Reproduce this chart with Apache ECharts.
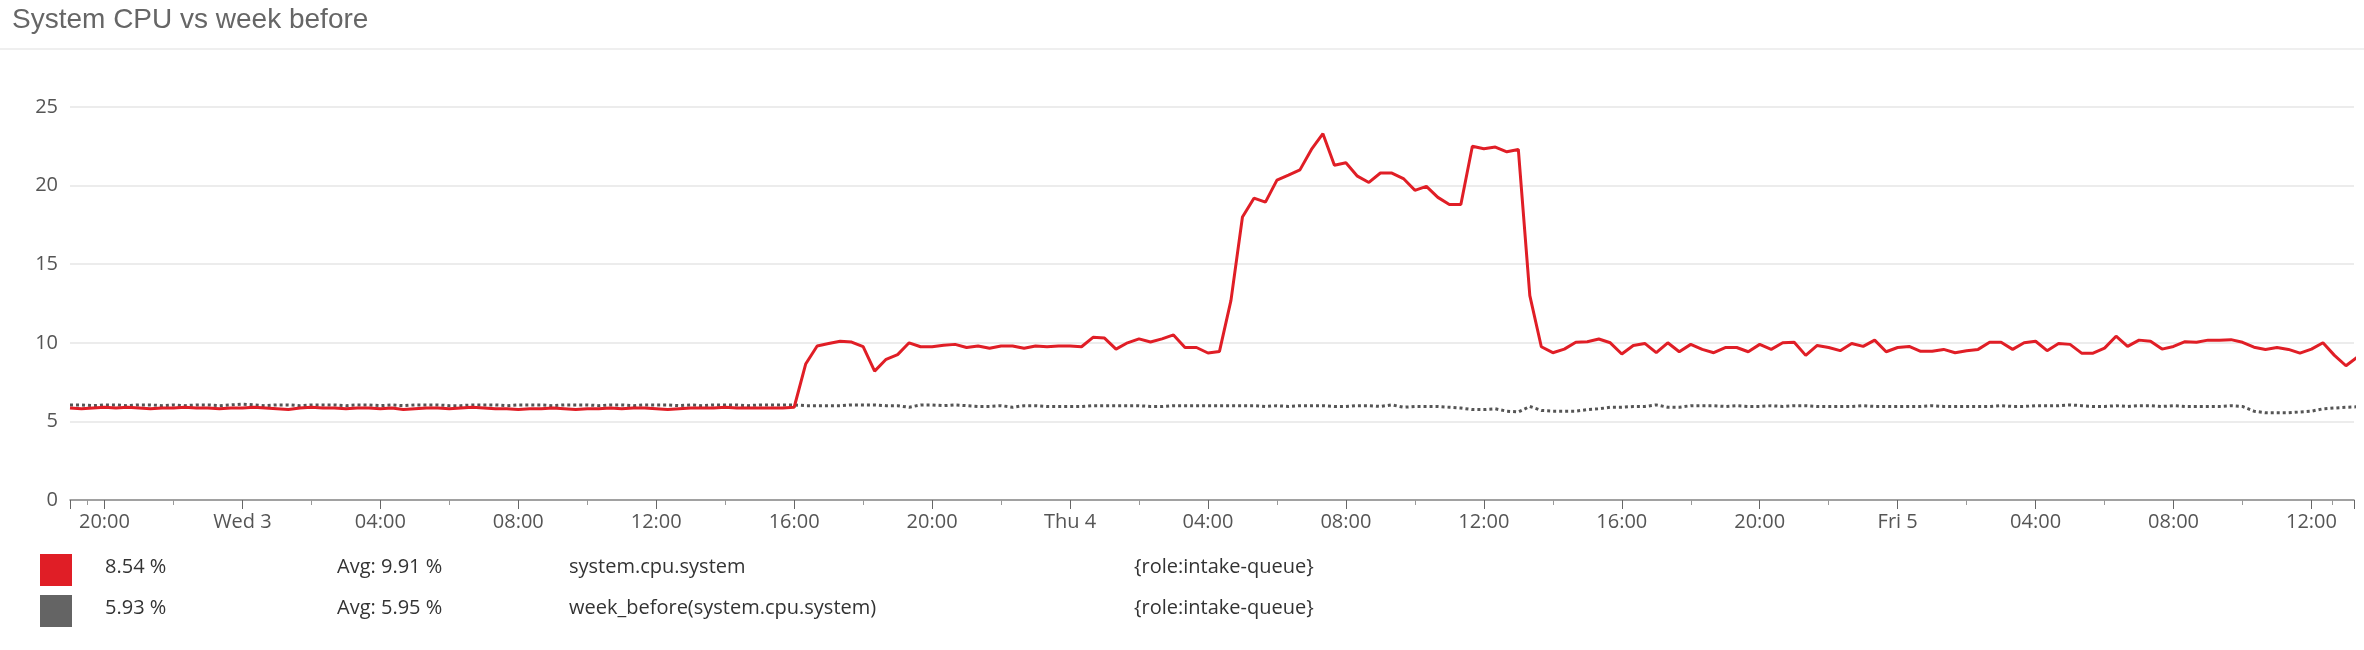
<!DOCTYPE html>
<html><head><meta charset="utf-8">
<script src="https://cdn.jsdelivr.net/npm/echarts@6/dist/echarts.min.js"></script>
<style>html,body{margin:0;padding:0;background:#fff}#c{width:2364px;height:650px}</style>
</head><body><div id="c"></div>
<script>
// Sample grid: 20-minute samples starting Tue 2 May 2017 19:00
const startTime = [2017, 4, 2, 19, 0];
const stepMinutes = 20;
const axisEnd = [2017, 4, 5, 13, 14];

// system.cpu.system
const cpuTueWed = [
  5.85,5.8,5.85,5.9,5.85,5.9,5.85,5.8,5.85,
  5.85,5.9,5.85,5.85,5.8,5.85,5.85,5.9,5.85,
  5.8,5.75,5.85,5.9,5.85,5.85,5.8,5.85,5.85,
  5.8,5.85,5.75,5.8,5.85,5.85,5.8,5.85,5.9,
  5.85,5.8,5.8,5.75,5.8,5.8,5.85,5.8,5.75,
  5.8,5.8,5.85,5.8,5.85,5.85,5.8,5.75,5.8,
  5.85,5.85,5.85,5.9,5.85,5.85,5.85,5.85,5.85
];
const cpuWedEve = [5.9,8.65,9.8,9.95,10.1,10.05,9.75,8.2,8.95,9.25,10.0,9.75,9.75,9.85,9.9,9.7,9.8,9.65,9.8,9.8,9.65,9.8,9.75,9.8];
const cpuThuAm = [9.8,9.75,10.35,10.3,9.6,10.0,10.25,10.05,10.25,10.5,9.7,9.7,9.35,9.45,12.7,18.0,19.2,18.95,20.35,20.67,21.0,22.3,23.3,21.3,21.45,20.6,20.2,20.8,20.8,20.45,19.7,19.95,19.25,18.8,18.8,22.5,22.35,22.45,22.15,22.3,13.0,9.75];
const cpuThuPm = [9.37,9.6,10.03,10.07,10.24,10.0,9.29,9.83,9.96,9.37,10.0,9.43,9.9,9.58,9.37,9.7,9.7,9.43,9.9,9.58,10.0,10.03,9.2,9.83,9.7,9.5,9.96,9.77,10.17,9.43];
const cpuFri = [9.7,9.77,9.46,9.46,9.58,9.37,9.5,9.58,10.03,10.03,9.58,10.0,10.1,9.5,9.96,9.9,9.34,9.34,9.66,10.42,9.77,10.17,10.1,9.6,9.77,10.07,10.03,10.17,10.17,10.2,10.03,9.72,9.58,9.7,9.58,9.34,9.6,10.0,9.2,8.54,9.1];

// week_before(system.cpu.system)
const weekTueWed = [
  6.05,6.05,6.0,6.05,6.05,6.0,6.05,6.05,6.0,
  6.05,6.0,6.05,6.05,6.0,6.05,6.1,6.05,6.0,
  6.05,6.05,6.0,6.05,6.05,6.05,6.0,6.05,6.05,
  6.0,6.05,6.0,6.05,6.05,6.05,6.0,6.0,6.05,
  6.05,6.05,6.0,6.05,6.05,6.05,6.0,6.05,6.05,
  6.05,6.0,6.05,6.05,6.0,6.05,6.05,6.05,6.0,
  6.05,6.0,6.05,6.05,6.05,6.0,6.05,6.05,6.05
];
const weekWedEve = [6.05,6.0,6.0,6.0,6.0,6.05,6.05,6.05,6.0,6.0,5.9,6.05,6.05,6.0,6.05,6.0,5.95,5.95,6.0,5.9,6.0,6.0,5.95,5.95];
const weekThuAm = [5.95,5.95,6.0,6.0,6.0,6.0,6.0,5.95,5.95,6.0,6.0,6.0,6.0,6.0,6.0,6.0,6.0,5.95,6.0,5.95,6.0,6.0,6.0,5.95,5.95,6.0,6.0,5.95,6.05,5.9,5.95,5.95,5.95,5.9,5.85,5.75,5.75,5.8,5.65,5.6,5.95,5.7];
const weekThuPm = [5.65,5.65,5.65,5.75,5.8,5.9,5.9,5.95,5.95,6.05,5.9,5.9,6.0,6.0,6.0,5.95,6.0,5.95,5.95,6.0,5.95,6.0,6.0,5.95,5.95,5.95,5.95,6.0,5.95,5.95];
const weekFri = [5.95,5.95,5.95,6.0,5.95,5.95,5.95,5.95,5.95,6.0,5.95,5.95,6.0,6.0,6.0,6.05,6.0,5.95,5.95,6.0,5.95,6.0,6.0,5.95,6.0,5.95,5.95,5.95,5.95,6.0,5.95,5.65,5.55,5.55,5.55,5.6,5.65,5.8,5.85,5.9,5.93];

const legendRows = [
  {color:'#e01e26', last:'8.54 %', avg:'Avg: 9.91 %', name:'system.cpu.system', scope:'{role:intake-queue}'},
  {color:'#646464', last:'5.93 %', avg:'Avg: 5.95 %', name:'week_before(system.cpu.system)', scope:'{role:intake-queue}'}
];
const dayNames = ['Sun','Mon','Tue','Wed','Thu','Fri','Sat'];

const t0 = new Date(...startTime).getTime();
function toPairs(vals){ return vals.map((v,i)=>[t0 + i*stepMinutes*60000, v]); }
const cpu = toPairs([].concat(cpuTueWed,cpuWedEve,cpuThuAm,cpuThuPm,cpuFri));
const week = toPairs([].concat(weekTueWed,weekWedEve,weekThuAm,weekThuPm,weekFri));

const font = '"Open Sans", "DejaVu Sans", sans-serif';
const graphics = [
  {type:'text', left:12, top:6, style:{text:'System CPU vs week before', fontSize:28, fill:'#666', font:'28px '+font}},
  {type:'rect', left:0, top:48, shape:{width:2364, height:2}, style:{fill:'#efefef'}}
];
legendRows.forEach((r,k)=>{
  const cy = 570 + k*41;
  graphics.push({type:'rect', left:40, top:cy-16, shape:{width:32,height:32}, style:{fill:r.color}});
  [[105,r.last],[337,r.avg],[569,r.name],[1134,r.scope]].forEach(([x,t])=>{
    graphics.push({type:'text', left:x, top:cy-13, style:{text:t, fill:'#333', font:'20px '+font}});
  });
});

const chart = echarts.init(document.getElementById('c'));
chart.setOption({
  animation:false,
  grid:{left:70, right:10, top:107, bottom:150},
  graphic:graphics,
  xAxis:{
    type:'time', min:t0, max:new Date(...axisEnd).getTime(),
    interval:6*3600000, minInterval:6*3600000, maxInterval:6*3600000,
    axisLine:{lineStyle:{color:'#888', width:1.5}},
    axisTick:{show:true, length:9, lineStyle:{color:'#666'}},
    minorTick:{show:true, splitNumber:2, length:5, lineStyle:{color:'#999'}},
    splitLine:{show:false},
    axisLabel:{color:'#555', fontSize:20, fontFamily:font, margin:12, hideOverlap:false,
      formatter:function(v){ const d=new Date(v); const h=d.getHours();
        if(h===0) return dayNames[d.getDay()]+' '+d.getDate();
        return (h<10?'0':'')+h+':00'; }}
  },
  yAxis:{
    type:'value', min:0, max:25, interval:5,
    axisLine:{show:false}, axisTick:{show:false},
    splitLine:{lineStyle:{color:'#e6e6e6', width:1.5}},
    axisLabel:{color:'#555', fontSize:20, fontFamily:font, margin:12}
  },
  series:[
    {type:'line', name:'week_before', data:week, showSymbol:false, z:2,
      lineStyle:{color:'#555', width:3, type:[3,3]}},
    {type:'line', name:'system.cpu.system', data:cpu, showSymbol:false, z:3,
      lineStyle:{color:'#e01e26', width:3}}
  ]
});
</script></body></html>
